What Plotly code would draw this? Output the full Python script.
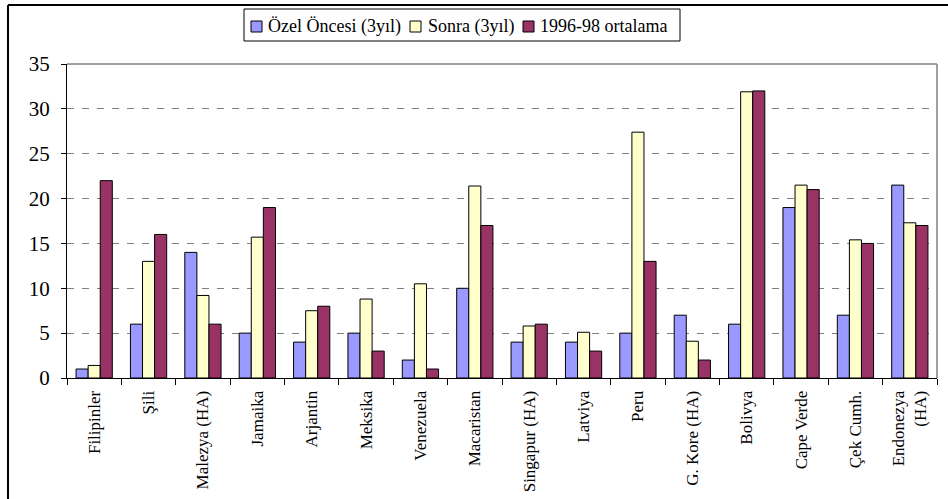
import plotly.graph_objects as go

# Countries (x categories)
countries = [
    "Filipinler", "Şili", "Malezya (HA)", "Jamaika", "Arjantin", "Meksika",
    "Venezuela", "Macaristan", "Singapur (HA)", "Latviya", "Peru",
    "G. Kore (HA)", "Bolivya", "Cape Verde", "Çek Cumh.", "Endonezya<br>(HA)",
]

# Series values
ozel_oncesi = [1, 6, 14, 5, 4, 5, 2, 10, 4, 4, 5, 7, 6, 19, 7, 21.5]
sonra = [1.4, 13, 9.2, 15.7, 7.5, 8.8, 10.5, 21.4, 5.8, 5.1, 27.4, 4.1, 31.9, 21.5, 15.4, 17.3]
ortalama = [22, 16, 6, 19, 8, 3, 1, 17, 6, 3, 13, 2, 32, 21, 15, 17]

series_names = ["Özel Öncesi (3yıl)", "Sonra (3yıl)", "1996-98 ortalama"]
series_colors = ["#9999FF", "#FFFFCC", "#993366"]

y_ticks = [0, 5, 10, 15, 20, 25, 30, 35]

FONT = "Liberation Serif, Times New Roman, serif"
W, H = 948, 499
L, R, T, B = 67, 11, 64, 121
plot_w = W - L - R
plot_h = H - T - B


def px(x):
    """pixel column -> paper x"""
    return (x - L) / plot_w


def py(y):
    """pixel row -> paper y"""
    return 1 + (T - y) / plot_h


fig = go.Figure()
for name, vals, col in zip(series_names, [ozel_oncesi, sonra, ortalama], series_colors):
    fig.add_trace(go.Bar(
        x=countries, y=vals, name=name, showlegend=False,
        marker=dict(color=col, line=dict(color="black", width=1)),
    ))

# plot-area frame (top and right edges in gray)
frame = dict(type="line", xref="paper", yref="paper", layer="above",
             line=dict(color="#808080", width=1.5))
fig.add_shape(**frame, x0=0, x1=1, y0=1, y1=1)
fig.add_shape(**frame, x0=1, x1=1, y0=0, y1=1)

# chart-area border (left and top edges)
fig.add_shape(type="line", xref="paper", yref="paper", layer="above",
              x0=px(8), x1=px(8), y0=-2, y1=py(5), line=dict(color="black", width=2))
fig.add_shape(type="line", xref="paper", yref="paper", layer="above",
              x0=px(8), x1=2, y0=py(5), y1=py(5), line=dict(color="black", width=2))

# legend box with swatches and labels
fig.add_shape(type="rect", xref="paper", yref="paper", layer="above",
              x0=px(244), x1=px(680), y0=py(41), y1=py(9),
              line=dict(color="black", width=1), fillcolor="white")
swatch_x = [251, 410, 523]
label_x = [266, 426, 538]
for name, col, sx, lx in zip(series_names, series_colors, swatch_x, label_x):
    fig.add_shape(type="rect", xref="paper", yref="paper", layer="above",
                  x0=px(sx), x1=px(sx + 11), y0=py(32), y1=py(21),
                  line=dict(color="black", width=1), fillcolor=col)
    fig.add_annotation(xref="paper", yref="paper", x=px(lx), y=py(26),
                       xanchor="left", yanchor="middle", showarrow=False,
                       text=name, font=dict(family=FONT, size=18, color="black"))

fig.update_layout(
    width=W, height=H,
    margin=dict(l=L, r=R, t=T, b=B, pad=0, autoexpand=False),
    paper_bgcolor="white", plot_bgcolor="white",
    font=dict(family=FONT, color="black"),
    barmode="group", bargap=1 / 3, bargroupgap=0,
    showlegend=False,
    xaxis=dict(
        type="category", tickangle=-90, tickson="boundaries",
        ticks="outside", ticklen=6, tickcolor="black",
        showline=True, linecolor="black", linewidth=1,
        showgrid=False, tickfont=dict(family=FONT, size=17, color="black"),
        ticklabelstandoff=5, automargin=False, fixedrange=True,
    ),
    yaxis=dict(
        range=[0, 35], tickvals=y_ticks,
        ticks="outside", ticklen=5, tickcolor="black",
        showline=True, linecolor="black", linewidth=1,
        showgrid=True, gridcolor="#808080", gridwidth=1, griddash="7px,8px",
        zeroline=False, ticklabelstandoff=7, automargin=False,
        tickfont=dict(family=FONT, size=21, color="black"),
        fixedrange=True,
    ),
)

fig.write_html("out.html")
